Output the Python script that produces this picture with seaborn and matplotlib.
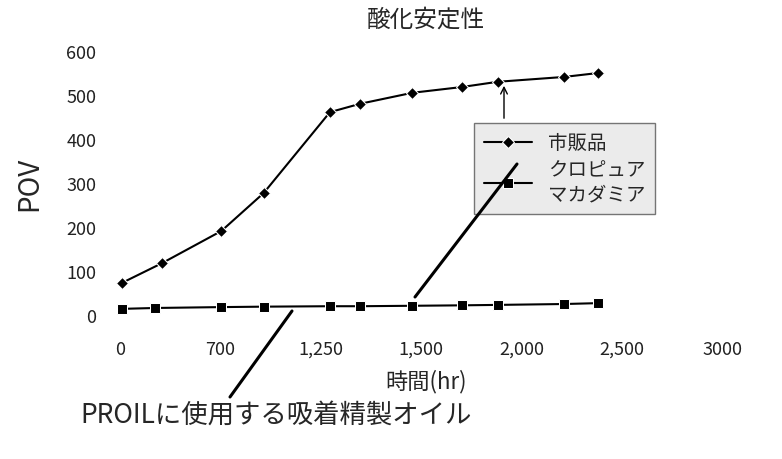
import matplotlib
matplotlib.use("Agg")
import matplotlib.pyplot as plt
import seaborn as sns
import pandas as pd

# x is the position on the (unevenly labelled) tick axis
tick_labels = ["0", "700", "1,250", "1,500", "2,000", "2,500", "3000"]
x_pos = [0.02, 0.42, 1.01, 1.43, 2.09, 2.39, 2.91, 3.40, 3.76, 4.42, 4.76]
x_sq = [0.02, 0.35, 1.01, 1.43, 2.09, 2.39, 2.91, 3.40, 3.76, 4.42, 4.76]
commercial = [73, 118, 191, 277, 461, 480, 505, 518, 530, 541, 550]
macadamia = [14, 16, 18, 19, 20, 20, 21, 22, 23, 25, 27]

sns.set_theme(style="white")
plt.rcParams['font.family'] = ['Noto Sans CJK JP', 'DejaVu Sans']

fig = plt.figure(figsize=(7.82, 4.6), dpi=100)
ax = fig.add_axes([0.14, 0.313, 0.81, 0.574])

df1 = pd.DataFrame({"x": x_pos, "y": commercial})
df2 = pd.DataFrame({"x": x_sq, "y": macadamia})
sns.lineplot(data=df1, x="x", y="y", ax=ax, color="black", marker="D",
             markersize=6, lw=1.5, label="市販品", clip_on=False)
sns.lineplot(data=df2, x="x", y="y", ax=ax, color="black", marker="s",
             markersize=7, lw=1.5, label="クロピュア\nマカダミア", clip_on=False)

ax.set_xlim(-0.104, 6.2)
ax.set_ylim(0, 600)
ax.set_xticks(range(7))
ax.set_xticklabels(tick_labels)
ax.set_yticks(range(0, 601, 100))
ax.tick_params(labelsize=13, colors="#222222")
ax.tick_params(axis="x", pad=12)
for s in ax.spines.values():
    s.set_visible(False)
ax.set_xlabel("時間(hr)", fontsize=16, labelpad=8)
ax.set_ylabel("POV", fontsize=20, labelpad=16)
ax.set_title("酸化安定性", fontsize=17, pad=18)

leg = ax.legend(loc="upper left", bbox_to_anchor=(0.56, 0.765), fontsize=14,
                frameon=True, fancybox=False, facecolor="#e6e6e6",
                edgecolor="#555555", handlelength=2.5, borderpad=0.5,
                labelspacing=0.3)

# annotation lines (figure pixels, origin bottom-left)
H = 460
fig.add_artist(matplotlib.patches.FancyArrowPatch(
    (504, H - 122), (504, H - 84), transform=None,
    arrowstyle="->", mutation_scale=12, color="black", lw=1))
fig.add_artist(matplotlib.lines.Line2D([517, 415], [H - 165, H - 298],
                                       transform=None, color="black", lw=2.2))
fig.add_artist(matplotlib.lines.Line2D([230, 292], [H - 398, H - 312],
                                       transform=None, color="black", lw=2.2))
fig.text(80 / 782, 1 - 415 / H, "PROILに使用する吸着精製オイル",
         fontsize=19, va="center", ha="left")

fig.savefig("out.png", dpi=100)
